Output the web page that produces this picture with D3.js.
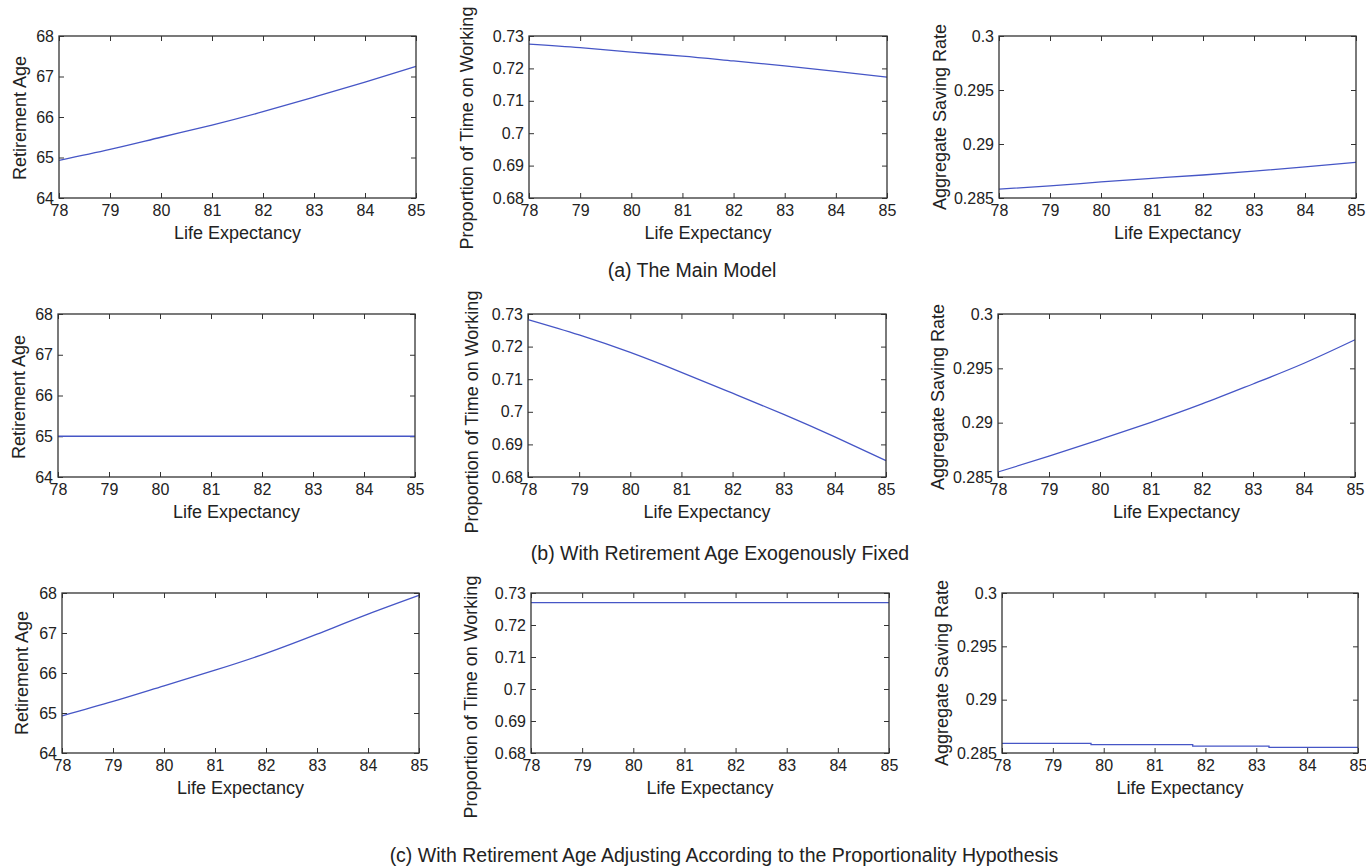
<!DOCTYPE html>
<html lang="en">
<head>
<meta charset="UTF-8">
<title>Retirement age, work share and saving vs life expectancy</title>
<style>
  body { margin: 0; background: #fff; }
  svg { display: block; font-family: 'Liberation Sans', Arial, sans-serif; }
  .tick text { fill: #222; font-size: 16px; }
  .domain { display: none; }
  .tick line { stroke: #333; }
</style>
</head>
<body>
<svg id="chart" width="1366" height="868"></svg>
<script src="https://cdn.jsdelivr.net/npm/d3@7/dist/d3.min.js"></script>
<script>
// data
var lifeExp = [78, 79, 80, 81, 82, 83, 84, 85];

// (a) the main model
var retireAgeMain = [64.93, 65.20, 65.50, 65.80, 66.13, 66.49, 66.86, 67.25];
var workShareMain = [0.7275, 0.7264, 0.7250, 0.7238, 0.7223, 0.7208, 0.7191, 0.7173];
var savingMain    = [0.28582, 0.28612, 0.28649, 0.28682, 0.28713, 0.28749, 0.28788, 0.28831];

// (b) retirement age fixed
var retireAgeFixed = [65, 65, 65, 65, 65, 65, 65, 65];
var workShareFixed = [0.7283, 0.7236, 0.7182, 0.7121, 0.7057, 0.6992, 0.6923, 0.6850];
var savingFixed    = [0.28546, 0.28691, 0.28845, 0.29003, 0.29172, 0.29356, 0.29547, 0.29763];

// (c) proportionality hypothesis
var retireAgeProp = [64.93, 65.29, 65.68, 66.07, 66.49, 66.97, 67.47, 67.94];
var workShareProp = [0.727, 0.727, 0.727, 0.727, 0.727, 0.727, 0.727, 0.727];
var savingPropX   = [78, 79.75, 81.75, 83.25, 85];   // saving rate moves in small steps
var savingProp    = [0.2859, 0.28578, 0.28565, 0.28553, 0.28553];

var xTicks = [78, 79, 80, 81, 82, 83, 84, 85];
var ageTicks = [64, 65, 66, 67, 68];
var workTicks = [0.68, 0.69, 0.70, 0.71, 0.72, 0.73];
var saveTicks = [0.285, 0.29, 0.295, 0.3];

var captions = [
  '(a) The Main Model',
  '(b) With Retirement Age Exogenously Fixed',
  '(c) With Retirement Age Adjusting According to the Proportionality Hypothesis'
];

var ageLabel = 'Retirement Age', workLabel = 'Proportion of Time on Working', saveLabel = 'Aggregate Saving Rate';

var rowsY = [[36, 198], [314, 477], [593, 753]];
var colsX = [[[59, 416], [529, 887], [999, 1356]],
             [[58, 415], [528, 886], [998, 1355]],
             [[62, 419], [531, 889], [1002, 1358]]];
var yLabX = [[20, 467, 940], [19, 472, 938], [22, 471, 942]];
var yLabY = [[118, 128, 117], [397, 412, 397], [673, 697, 673]];
var capPos = [[692, 277], [720, 560], [724, 862]];

var panels = [
  [{x: lifeExp, y: retireAgeMain, dom: [64, 68], ticks: ageTicks, label: ageLabel},
   {x: lifeExp, y: workShareMain, dom: [0.68, 0.73], ticks: workTicks, label: workLabel},
   {x: lifeExp, y: savingMain, dom: [0.285, 0.3], ticks: saveTicks, label: saveLabel}],
  [{x: lifeExp, y: retireAgeFixed, dom: [64, 68], ticks: ageTicks, label: ageLabel},
   {x: lifeExp, y: workShareFixed, dom: [0.68, 0.73], ticks: workTicks, label: workLabel},
   {x: lifeExp, y: savingFixed, dom: [0.285, 0.3], ticks: saveTicks, label: saveLabel}],
  [{x: lifeExp, y: retireAgeProp, dom: [64, 68], ticks: ageTicks, label: ageLabel},
   {x: lifeExp, y: workShareProp, dom: [0.68, 0.73], ticks: workTicks, label: workLabel},
   {x: savingPropX, y: savingProp, dom: [0.285, 0.3], ticks: saveTicks, label: saveLabel, step: true}]
];

var svg = d3.select('#chart');
var fmt = d3.format('~g');
var tickLen = 5;

panels.forEach(function (row, r) {
  row.forEach(function (p, c) {
    var x0 = colsX[r][c][0], x1 = colsX[r][c][1];
    var y0 = rowsY[r][0], y1 = rowsY[r][1];
    var x = d3.scaleLinear().domain([78, 85]).range([x0, x1]);
    var y = d3.scaleLinear().domain(p.dom).range([y1, y0]);
    var g = svg.append('g');

    // inward ticks on all four sides, labels only bottom/left
    g.append('g').attr('transform', 'translate(0,' + y1 + ')')
      .call(d3.axisBottom(x).tickValues(xTicks).tickFormat(d3.format('d'))
        .tickSizeInner(-tickLen).tickSizeOuter(0).tickPadding(7));
    g.append('g').attr('transform', 'translate(0,' + y0 + ')')
      .call(d3.axisTop(x).tickValues(xTicks).tickFormat('')
        .tickSizeInner(-tickLen).tickSizeOuter(0));
    g.append('g').attr('transform', 'translate(' + x0 + ',0)')
      .call(d3.axisLeft(y).tickValues(p.ticks).tickFormat(fmt)
        .tickSizeInner(-tickLen).tickSizeOuter(0).tickPadding(5));
    g.append('g').attr('transform', 'translate(' + x1 + ',0)')
      .call(d3.axisRight(y).tickValues(p.ticks).tickFormat('')
        .tickSizeInner(-tickLen).tickSizeOuter(0));

    var line = d3.line()
      .x(function (d, i) { return x(p.x[i]); })
      .y(function (d) { return y(d); })
      .curve(p.step ? d3.curveStepAfter : d3.curveNatural);
    g.append('path').datum(p.y)
      .attr('d', line)
      .attr('fill', 'none')
      .attr('stroke', '#4656c6')
      .attr('stroke-width', 1.3);

    g.append('rect')
      .attr('x', x0).attr('y', y0)
      .attr('width', x1 - x0).attr('height', y1 - y0)
      .attr('fill', 'none').attr('stroke', '#333').attr('stroke-width', 1.3);

    g.append('text')
      .attr('x', (x0 + x1) / 2).attr('y', y1 + 41)
      .attr('text-anchor', 'middle')
      .style('font-size', '18px').style('fill', '#222')
      .text('Life Expectancy');

    g.append('text')
      .attr('transform', 'translate(' + (yLabX[r][c] + 6) + ',' + yLabY[r][c] + ') rotate(-90)')
      .attr('text-anchor', 'middle')
      .style('font-size', '18px').style('fill', '#222')
      .text(p.label);
  });

  svg.append('text')
    .attr('x', capPos[r][0]).attr('y', capPos[r][1])
    .attr('text-anchor', 'middle')
    .style('font-size', '19.5px').style('fill', '#222')
    .text(captions[r]);
});
</script>
</body>
</html>
